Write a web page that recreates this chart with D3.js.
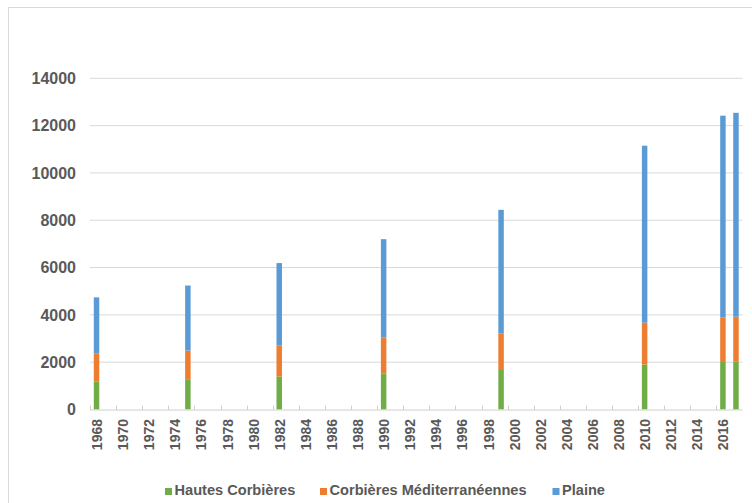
<!DOCTYPE html>
<html>
<head>
<meta charset="utf-8">
<script src="https://cdn.jsdelivr.net/npm/d3@7"></script>
<style>
  html, body { margin: 0; padding: 0; background: #fff; }
  svg { display: block; font-family: "Liberation Sans", Arial, sans-serif; }
</style>
</head>
<body>
<svg id="chart" width="752" height="503"></svg>
<script>
// Census years and population by zone
const years = [1968, 1975, 1982, 1990, 1999, 2010, 2016, 2017];
const hautesCorbieres = [1190, 1280, 1390, 1530, 1670, 1900, 2010, 2020];
const corbieresMed = [1170, 1210, 1310, 1510, 1550, 1770, 1890, 1900];
const plaine = [2380, 2750, 3490, 4160, 5220, 7480, 8520, 8620];

const seriesNames = ["Hautes Corbières", "Corbières Méditerranéennes", "Plaine"];
const seriesColors = ["#70AD47", "#ED7D31", "#5B9BD5"];
const yTicks = [0, 2000, 4000, 6000, 8000, 10000, 12000, 14000];

// Every calendar year from 1968 to 2017 gets a slot on the axis
const allYears = d3.range(1968, 2018);

const svg = d3.select("#chart");

// Outer frame
svg.append("rect")
  .attr("x", 8.5).attr("y", 7.5)
  .attr("width", 800).attr("height", 600)
  .attr("fill", "none").attr("stroke", "#d9d9d9");

const plotLeft = 90, plotRight = 742.5, plotTop = 78.3, plotBottom = 409.5;

const x = d3.scaleBand().domain(allYears).range([plotLeft, plotRight]).padding(0);
const y = d3.scaleLinear().domain([0, 14000]).range([plotBottom, plotTop]);

// Horizontal gridlines
svg.append("g")
  .selectAll("line")
  .data(yTicks.filter(d => d > 0))
  .join("line")
  .attr("x1", plotLeft).attr("x2", plotRight)
  .attr("y1", d => y(d)).attr("y2", d => y(d))
  .attr("stroke", "#d9d9d9").attr("stroke-width", 1);

// Y axis labels
svg.append("g")
  .selectAll("text")
  .data(yTicks)
  .join("text")
  .attr("x", 76)
  .attr("y", d => y(d))
  .attr("dy", "0.36em")
  .attr("text-anchor", "end")
  .attr("font-size", 16)
  .attr("font-weight", "bold")
  .attr("fill", "#595959")
  .text(d => d);

// Stacked bars
const rows = years.map((yr, i) => ({
  year: yr,
  h: hautesCorbieres[i],
  c: corbieresMed[i],
  p: plaine[i]
}));
const stack = d3.stack().keys(["h", "c", "p"]);
const stacked = stack(rows);
const barW = x.step() * 0.42;

svg.append("g")
  .selectAll("g")
  .data(stacked)
  .join("g")
  .attr("fill", (d, i) => seriesColors[i])
  .selectAll("rect")
  .data(d => d)
  .join("rect")
  .attr("x", d => x(d.data.year) + x.bandwidth() / 2 - barW / 2)
  .attr("width", barW)
  .attr("y", d => y(d[1]))
  .attr("height", d => y(d[0]) - y(d[1]));

// X axis line and tick marks (every two years, at slot boundaries)
const xAxisG = svg.append("g");
xAxisG.append("line")
  .attr("x1", plotLeft).attr("x2", plotRight)
  .attr("y1", plotBottom + 0.5).attr("y2", plotBottom + 0.5)
  .attr("stroke", "#d0d0d0");

const labelYears = allYears.filter(d => (d - 1968) % 2 === 0);
xAxisG.selectAll("line.tick")
  .data(labelYears)
  .join("line")
  .attr("class", "tick")
  .attr("x1", d => Math.round(x(d)) + 0.5).attr("x2", d => Math.round(x(d)) + 0.5)
  .attr("y1", plotBottom - 4).attr("y2", plotBottom + 0.5)
  .attr("stroke", "#d0d0d0");

xAxisG.selectAll("text")
  .data(labelYears)
  .join("text")
  .attr("transform", d => `translate(${x(d) + x.bandwidth() / 2 + 0.5},419) rotate(-90)`)
  .attr("dy", "0.36em")
  .attr("text-anchor", "end")
  .attr("font-size", 14)
  .attr("font-weight", "bold")
  .attr("fill", "#595959")
  .text(d => d);

// Legend
const legendX = [165, 320, 552.5];
const legend = svg.append("g")
  .selectAll("g")
  .data(seriesNames)
  .join("g")
  .attr("transform", (d, i) => `translate(${legendX[i]},488)`);
legend.append("rect")
  .attr("width", 7).attr("height", 7)
  .attr("fill", (d, i) => seriesColors[i]);
legend.append("text")
  .attr("x", 9.5).attr("y", 7.3)
  .attr("font-size", 14.6)
  .attr("font-weight", "bold")
  .attr("fill", "#595959")
  .text(d => d);
</script>
</body>
</html>
